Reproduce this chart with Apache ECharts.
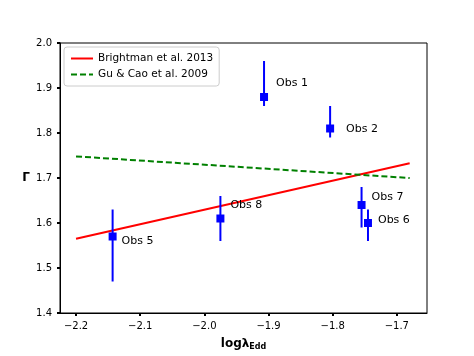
<!DOCTYPE html>
<html>
<head>
<meta charset="utf-8">
<script src="https://cdn.jsdelivr.net/npm/echarts@6/dist/echarts.min.js"></script>
<style>
  html, body { margin: 0; padding: 0; background: #fff; }
  #chart { width: 474px; height: 356px; }
</style>
</head>
<body>
<div id="chart"></div>
<script>
// observations
var obsNames = ["Obs 1", "Obs 2", "Obs 5", "Obs 6", "Obs 7", "Obs 8"];
var obsX = [-1.907, -1.804, -2.143, -1.745, -1.755, -1.975];
var obsY = [1.88, 1.81, 1.57, 1.60, 1.64, 1.61];
var errUp = [0.08, 0.05, 0.06, 0.03, 0.04, 0.05];
var errDown = [0.02, 0.02, 0.10, 0.04, 0.05, 0.05];
// label offsets (px) from the marker
var labelOffsets = [[12, -14], [16, 1], [9, 5], [10, -3], [10, -8], [10, -13]];

// model lines
var brightmanX = [-2.2, -1.68];
var brightmanY = [1.565, 1.733];
var guCaoX = [-2.2, -1.68];
var guCaoY = [1.748, 1.700];

var xTicks = [-2.2, -2.1, -2.0, -1.9, -1.8, -1.7];
var yTicks = [1.4, 1.5, 1.6, 1.7, 1.8, 1.9, 2.0];

(function () {
  var myChart = echarts.init(document.getElementById("chart"));
  var font = "DejaVu Sans";
  var fmt = function (v) {
    return v.toFixed(1).replace("-", "\u2212");
  };

  var pts = obsX.map(function (x, i) {
    return {
      value: [x, obsY[i]],
      label: {
        show: true,
        formatter: obsNames[i],
        position: "right",
        distance: 0,
        offset: [labelOffsets[i][0] - 4, labelOffsets[i][1]],
      },
    };
  });
  var errs = obsX.map(function (x, i) {
    return [x, obsY[i] - errDown[i], obsY[i] + errUp[i]];
  });

  var option = {
    animation: false,
    textStyle: { fontFamily: font },
    grid: {
      left: 60,
      right: 47,
      top: 43,
      bottom: 40,
      show: true,
      borderColor: "#000",
      borderWidth: 1,
    },
    legend: {
      left: 64,
      top: 47,
      orient: "vertical",
      padding: [6, 6, 6, 6],
      itemGap: 5,
      itemWidth: 22,
      itemHeight: 10,
      borderColor: "#ccc",
      borderWidth: 1,
      borderRadius: 3,
      itemStyle: { opacity: 0 },
      textStyle: { fontFamily: font, fontSize: 10.5, color: "#000" },
      data: ["Brightman et al. 2013", "Gu & Cao et al. 2009"],
    },
    xAxis: {
      type: "value",
      min: -2.225,
      max: -1.653,
      name: "log\u03bb{sub|Edd}",
      nameLocation: "middle",
      nameGap: 24,
      nameTextStyle: {
        fontFamily: font,
        fontWeight: "bold",
        fontSize: 12,
        color: "#000",
        rich: {
          sub: { fontFamily: font, fontWeight: "bold", fontSize: 8, verticalAlign: "bottom", padding: [6, 0, 0, 0], color: "#000" },
        },
      },
      axisLine: { lineStyle: { color: "#000", width: 1 } },
      axisTick: { customValues: xTicks, length: 3, lineStyle: { color: "#000", width: 2 } },
      axisLabel: { customValues: xTicks, formatter: fmt, color: "#000", fontSize: 10, fontFamily: font, margin: 8 },
      splitLine: { show: false },
    },
    yAxis: {
      type: "value",
      min: 1.4,
      max: 2.0,
      interval: 0.1,
      name: "\u0393",
      nameLocation: "middle",
      nameRotate: 0,
      nameGap: 30,
      nameTextStyle: { fontFamily: font, fontWeight: "bold", fontSize: 12, color: "#000" },
      axisLine: { show: true, lineStyle: { color: "#000", width: 1 } },
      axisTick: { show: true, length: 3, lineStyle: { color: "#000", width: 2 } },
      axisLabel: { formatter: fmt, color: "#000", fontSize: 10, fontFamily: font, margin: 8 },
      splitLine: { show: false },
    },
    series: [
      {
        name: "Brightman et al. 2013",
        type: "line",
        symbol: "none",
        data: brightmanX.map(function (x, i) { return [x, brightmanY[i]]; }),
        lineStyle: { color: "#ff0000", width: 2 },
        itemStyle: { color: "#ff0000" },
        z: 3,
      },
      {
        name: "Gu & Cao et al. 2009",
        type: "line",
        symbol: "none",
        data: guCaoX.map(function (x, i) { return [x, guCaoY[i]]; }),
        lineStyle: { color: "#008000", width: 2, type: [6, 3] },
        itemStyle: { color: "#008000" },
        z: 3,
      },
      {
        type: "custom",
        data: errs,
        renderItem: function (params, api) {
          var a = api.coord([api.value(0), api.value(1)]);
          var b = api.coord([api.value(0), api.value(2)]);
          return {
            type: "line",
            shape: { x1: a[0], y1: a[1], x2: b[0], y2: b[1] },
            style: { stroke: "#0000ff", lineWidth: 2 },
          };
        },
        z: 4,
      },
      {
        type: "scatter",
        symbol: "rect",
        symbolSize: 8,
        data: pts,
        itemStyle: { color: "#0000ff", opacity: 1 },
        label: { color: "#000", fontSize: 11, fontFamily: font },
        z: 5,
      },
    ],
  };

  myChart.setOption(option);
  window.addEventListener("resize", function () {
    myChart.resize();
  });
})();
</script>
</body>
</html>
